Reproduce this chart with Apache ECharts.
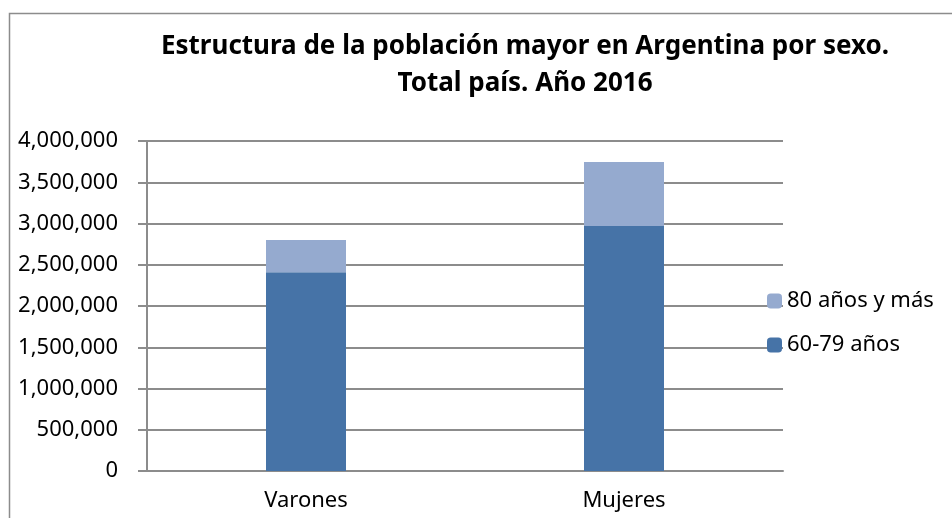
<!DOCTYPE html>
<html>
<head>
<meta charset="utf-8">
<script src="https://cdn.jsdelivr.net/npm/echarts@6/dist/echarts.min.js"></script>
<style>
  html, body { margin: 0; padding: 0; background: #fff; }
  #main { width: 952px; height: 518px; }
</style>
</head>
<body>
<div id="main"></div>
<script>
// datos
var categorias = ['Varones', 'Mujeres'];
var edad60a79 = [2410000, 2970000];
var edad80ymas = [390000, 775000];
var colores = ['#4673A7', '#95AACF'];

var myChart = echarts.init(document.getElementById('main'));
var fuente = 'Noto Sans, Open Sans, sans-serif';

myChart.setOption({
  backgroundColor: '#fff',
  animation: false,
  textStyle: { fontFamily: fuente },
  graphic: [
    {
      type: 'rect',
      shape: { x: 9.5, y: 13.5, width: 960, height: 520 },
      style: { fill: 'none', stroke: '#8c8c8c', lineWidth: 1.5 },
      silent: true
    }
  ],
  title: {
    text: 'Estructura de la población mayor en Argentina por sexo.\nTotal país. Año 2016',
    left: 520,
    textAlign: 'center',
    top: 23,
    textStyle: {
      fontFamily: fuente,
      fontSize: 26,
      fontWeight: 'bold',
      color: '#000',
      lineHeight: 37
    }
  },
  legend: {
    orient: 'vertical',
    left: 762,
    top: 285,
    itemWidth: 15,
    itemHeight: 15,
    itemGap: 22,
    data: ['80 años y más', '60-79 años'],
    textStyle: { fontFamily: fuente, fontSize: 22, color: '#000' }
  },
  grid: {
    left: 147,
    right: 169,
    top: 141,
    bottom: 47,
    containLabel: false
  },
  xAxis: {
    type: 'category',
    data: categorias,
    axisLine: { lineStyle: { color: '#8c8c8c', width: 2 } },
    axisTick: { show: false },
    axisLabel: { fontFamily: fuente, fontSize: 22, color: '#000', margin: 19 }
  },
  yAxis: {
    type: 'value',
    min: 0,
    max: 4000000,
    interval: 500000,
    axisLine: { show: true, lineStyle: { color: '#8c8c8c', width: 2 } },
    axisTick: { show: true, length: 9, lineStyle: { color: '#8c8c8c', width: 2 } },
    splitLine: { lineStyle: { color: '#8c8c8c', width: 2 } },
    axisLabel: {
      fontFamily: fuente,
      fontSize: 22,
      color: '#000',
      margin: 29,
      formatter: function (v) { return v.toLocaleString('en-US'); }
    }
  },
  series: [
    {
      name: '60-79 años',
      type: 'bar',
      stack: 'total',
      barWidth: 80,
      itemStyle: { color: colores[0] },
      data: edad60a79
    },
    {
      name: '80 años y más',
      type: 'bar',
      stack: 'total',
      barWidth: 80,
      itemStyle: { color: colores[1] },
      data: edad80ymas
    }
  ]
});
</script>
</body>
</html>
